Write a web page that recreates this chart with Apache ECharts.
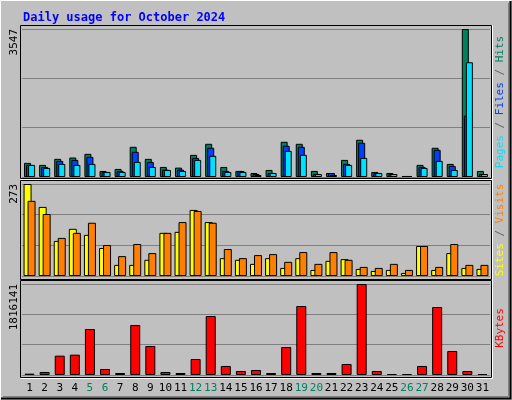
<!DOCTYPE html>
<html><head><meta charset="utf-8">
<script src="https://cdn.jsdelivr.net/npm/echarts@6/dist/echarts.min.js"></script>
<style>html,body{margin:0;padding:0;background:#c0c0c0}#c{width:512px;height:400px}</style>
</head><body><div id="c"></div>
<script>
// 每日数据
var days = ['1','2','3','4','5','6','7','8','9','10','11','12','13','14','15','16','17','18','19','20','21','22','23','24','25','26','27','28','29','30','31'];
var weekend = ['5','6','12','13','19','20','26','27'];
var hits  = [338,290,435,467,555,145,193,724,435,241,225,531,796,241,145,96,169,844,796,145,96,410,892,121,96,24,290,700,314,3547,145];
var files = [290,241,386,410,482,121,145,603,362,177,177,458,700,145,145,72,96,748,724,72,96,314,820,96,72,24,241,651,265,1471,72];
var pages = [290,217,314,290,314,121,121,362,241,169,145,410,507,121,121,48,96,627,531,72,48,290,458,96,72,24,217,386,169,2750,72];
var sites  = [273,205,104,140,122,83,33,33,48,128,131,196,160,53,48,36,53,24,53,18,45,50,21,15,18,9,89,18,68,24,21];
var visits = [223,184,113,128,158,92,59,95,68,128,160,193,158,80,53,62,65,42,71,36,71,48,27,24,36,18,89,27,95,33,33];
var kbytes = [27000,60000,386000,406000,918000,120000,40000,998000,579000,60000,40000,319000,1177000,180000,80000,100000,40000,559000,1377000,40000,40000,220000,1816141,80000,20000,20000,180000,1357000,479000,80000,20000];

var maxHits = Math.max.apply(null, hits);
var maxSites = Math.max.apply(null, sites.concat(visits));
var maxKb = Math.max.apply(null, kbytes);

var font = 'DejaVu Sans Mono';
var panels = [[25, 178, 29, 148], [180, 279, 184, 92], [280, 377, 284, 91]];

function bar(name, data, color, w, gap, idx) {
    return {type: 'bar', name: name, data: data, xAxisIndex: idx, yAxisIndex: idx,
        barWidth: w, barGap: gap, animation: false,
        itemStyle: {color: color, borderColor: '#000', borderWidth: 1}};
}

var grids = [], xAxes = [], yAxes = [], graphics = [];
var maxes = [maxHits, maxSites, maxKb];
panels.forEach(function (p, i) {
    grids.push({left: 22, width: 468, top: p[2], height: p[3]});
    xAxes.push({type: 'category', gridIndex: i, data: days,
        axisLine: {show: false}, axisTick: {show: false},
        axisLabel: i < 2 ? {show: false} : {
            interval: 0, margin: 8, fontFamily: font, fontSize: 11, color: '#000',
            formatter: function (v) { return weekend.indexOf(v) >= 0 ? '{w|' + v + '}' : v; },
            rich: {w: {color: '#008060', fontFamily: font, fontSize: 11}}
        }});
    yAxes.push({type: 'value', gridIndex: i, min: 0, max: maxes[i], interval: maxes[i] / 3,
        axisLabel: {show: false}, axisLine: {show: false}, axisTick: {show: false},
        splitLine: {lineStyle: {color: '#808080', width: 1}}});
    // 面板边框
    graphics.push({type: 'rect', shape: {x: 20.5, y: p[0] + 0.5, width: 471, height: p[1] - p[0]},
        style: {fill: 'none', stroke: '#000', lineWidth: 1}, z: 100});
    graphics.push({type: 'polyline', shape: {points: [[20.5, p[1] + 1.5], [492.5, p[1] + 1.5], [492.5, p[0] + 0.5]]},
        style: {fill: 'none', stroke: '#fff', lineWidth: 1}, z: 100});
    graphics.push({type: 'text', x: 14, y: p[0] + 4, rotation: Math.PI / 2,
        style: {text: String(maxes[i]), fontFamily: font, fontSize: 11, fill: '#000',
            align: 'right', verticalAlign: 'middle'}, z: 100});
});

var sideLabels = [
    ['{a|Pages} / {b|Files} / {c|Hits}', 102],
    ['{d|Sites} / {e|Visits}', 230],
    ['{f|KBytes}', 328]
];
sideLabels.forEach(function (s) {
    graphics.push({type: 'text', x: 500, y: s[1], rotation: Math.PI / 2,
        style: {text: s[0], fontFamily: font, fontSize: 11, fill: '#606060',
            align: 'center', verticalAlign: 'middle',
            rich: {a: {fill: '#00e0ff', fontFamily: font, fontSize: 11},
                   b: {fill: '#0040ff', fontFamily: font, fontSize: 11},
                   c: {fill: '#008060', fontFamily: font, fontSize: 11},
                   d: {fill: '#ffff00', fontFamily: font, fontSize: 11},
                   e: {fill: '#ff8000', fontFamily: font, fontSize: 11},
                   f: {fill: '#ff0000', fontFamily: font, fontSize: 11}}}, z: 100});
});

// 外框
graphics.push({type: 'polyline', shape: {points: [[0.5, 399.5], [0.5, 0.5], [511.5, 0.5]]},
    style: {fill: 'none', stroke: '#fff', lineWidth: 1}, z: 100});
graphics.push({type: 'polyline', shape: {points: [[1, 398.5], [510.5, 398.5], [510.5, 1]]},
    style: {fill: 'none', stroke: '#000', lineWidth: 2}, z: 100});
graphics.push({type: 'polyline', shape: {points: [[3, 396.5], [508.5, 396.5], [508.5, 3]]},
    style: {fill: 'none', stroke: '#808080', lineWidth: 1}, z: 100});

var option = {
    backgroundColor: '#c0c0c0',
    animation: false,
    title: {text: 'Daily usage for October 2024', left: 18, top: 7,
        textStyle: {fontFamily: font, fontSize: 12, fontWeight: 'bold', color: '#0000ff'}},
    grid: grids, xAxis: xAxes, yAxis: yAxes,
    series: [
        bar('Hits', hits, '#00805c', 7, '-71%', 0),
        bar('Files', files, '#0040ff', 7, '-71%', 0),
        bar('Pages', pages, '#00e0ff', 7, '-71%', 0),
        bar('Sites', sites, '#ffff00', 8, '-50%', 1),
        bar('Visits', visits, '#ff8000', 8, '-50%', 1),
        bar('KBytes', kbytes, '#ff0000', 10, '0%', 2)
    ],
    graphic: graphics
};
var myChart = echarts.init(document.getElementById('c'));
myChart.setOption(option);
</script>
</body></html>
